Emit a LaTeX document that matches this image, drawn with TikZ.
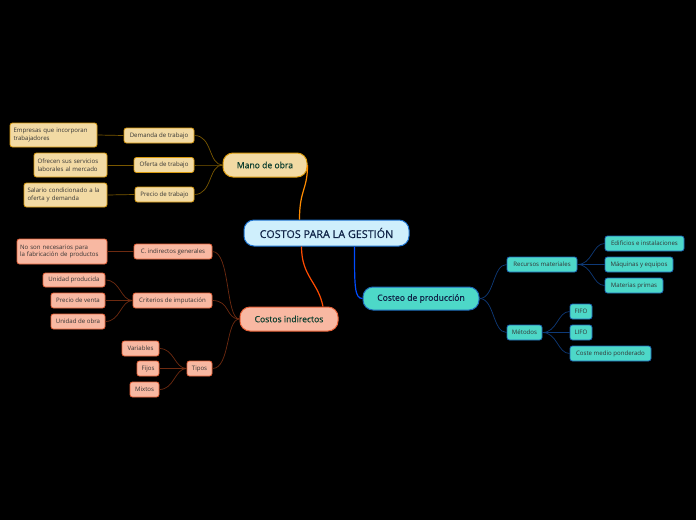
\documentclass[tikz,border=0pt]{standalone}
\usepackage{fontspec}
\setmainfont{Open Sans}
\newfontfamily\semib[FakeBold=0.6]{Open Sans}
\begin{document}
\begin{tikzpicture}[x=1pt,y=-1pt,
  base/.style={draw, line width=0.8pt, inner sep=1pt, align=center, font=\fontsize{6.1}{7.6}\selectfont, text=black!80},
  gold/.style={base, fill=goldfill, draw=goldline, rounded corners=2.5pt},
  red/.style={base, fill=redfill, draw=redline, rounded corners=2.5pt},
  teal/.style={base, fill=tealfill, draw=tealline, rounded corners=2.5pt},
  multi/.style={align=left},
  goldc/.style={draw=goldconn, line width=0.7pt},
  redc/.style={draw=redconn, line width=0.7pt},
  tealc/.style={draw=tealconn, line width=0.7pt},
  mainn/.style={line width=1pt, rounded corners=10pt, font=\semib\fontsize{8.6}{10}\selectfont},
]
\definecolor{goldfill}{HTML}{F2DAA4}
\definecolor{goldline}{HTML}{D99A0E}
\definecolor{redfill}{HTML}{F8B8A2}
\definecolor{redline}{HTML}{E8633A}
\definecolor{tealfill}{HTML}{4DD8C8}
\definecolor{tealline}{HTML}{1E68B8}
\definecolor{goldconn}{HTML}{7A5800}
\definecolor{redconn}{HTML}{6E2A10}
\definecolor{tealconn}{HTML}{0E3A78}
\definecolor{cfill}{HTML}{CFEFFC}
\definecolor{cline}{HTML}{1F74D0}
\definecolor{ctext}{HTML}{102448}
\definecolor{gtext}{HTML}{0E4030}
\fill[black] (0,0) rectangle (696,520);
\useasboundingbox (0,0) rectangle (696,520);

% central and main nodes
\node[mainn, draw=cline, fill=cfill, minimum width=165, minimum height=26, text=ctext, font=\semib\fontsize{10.8}{12}\selectfont] (c) at (326.5,233) {COSTOS PARA LA GESTIÓN};
\node[mainn, draw=goldline, fill=goldfill, minimum width=84, minimum height=24, text=gtext] (mano) at (265,165) {Mano de obra};
\node[mainn, draw=redline, fill=redfill, minimum width=98, minimum height=24, text=gtext] (ci) at (289,319) {Costos indirectos};
\node[mainn, draw=tealline, fill=tealfill, minimum width=116, minimum height=23, text=ctext] (cp) at (421,298.5) {Costeo de producción};

% main connectors
\draw[draw=orange!90!yellow, line width=1.2pt] (c.north west) ++(56,0) coordinate (c1) .. controls +(0,-30) and +(0,25) .. (mano.east);
\draw[draw=orange!60!red, line width=1.2pt] (c.south west) ++(58,0) coordinate (c2) .. controls +(0,30) and +(-5,-25) .. ([xshift=34pt]ci.north);
\draw[draw=blue!70!cyan, line width=1.2pt] (c.south west) ++(111,0) coordinate (c3) .. controls +(0,40) and +(-8,0) .. (cp.west);

% Mano de obra branch
\node[gold, minimum width=70, minimum height=15] (dem) at (159,135.5) {Demanda de trabajo};
\node[gold, minimum width=60, minimum height=15] (ofe) at (164,165) {Oferta de trabajo};
\node[gold, minimum width=59, minimum height=15] (pre) at (164.5,194.5) {Precio de trabajo};
\node[gold, multi, minimum width=87, minimum height=24, text width=80] (emp) at (53.5,135) {Empresas que incorporan\\trabajadores};
\node[gold, multi, minimum width=73, minimum height=24, text width=66] (ofr) at (70.5,165) {Ofrecen sus servicios\\laborales al mercado};
\node[gold, multi, minimum width=83, minimum height=24, text width=76] (sal) at (65.5,195) {Salario condicionado a la\\oferta y demanda};
\foreach \a in {dem,ofe,pre} \draw[goldc] (\a.east) .. controls +(18,0) and +(-14,0) .. (mano.west);
\draw[goldc] (emp.east) -- (dem.west);
\draw[goldc] (ofr.east) -- (ofe.west);
\draw[goldc] (sal.east) -- (pre.west);

% Costos indirectos branch
\node[red, minimum width=78, minimum height=15] (gen) at (173,251.5) {C. indirectos generales};
\node[red, minimum width=79, minimum height=15] (cri) at (172.5,300.5) {Criterios de imputación};
\node[red, minimum width=25, minimum height=15] (tip) at (199.5,368.5) {Tipos};
\node[red, multi, minimum width=90, minimum height=25, text width=84] (nos) at (62,251.5) {No son necesarios para\\la fabricación de productos};
\node[red, minimum width=62, minimum height=14] (upr) at (74,280) {Unidad producida};
\node[red, minimum width=54, minimum height=15] (pve) at (78,300.5) {Precio de venta};
\node[red, minimum width=54, minimum height=15] (uob) at (78,321.5) {Unidad de obra};
\node[red, minimum width=37, minimum height=15] (var) at (140.5,348.5) {Variables};
\node[red, minimum width=22, minimum height=15] (fij) at (148,368.5) {Fijos};
\node[red, minimum width=29, minimum height=15] (mix) at (144.5,389.5) {Mixtos};
\foreach \a in {gen,cri,tip} \draw[redc] (\a.east) .. controls +(18,0) and +(-14,0) .. (ci.west);
\draw[redc] (nos.east) -- (gen.west);
\foreach \a in {upr,pve,uob} \draw[redc] (\a.east) .. controls +(15,0) and +(-12,0) .. (cri.west);
\foreach \a in {var,fij,mix} \draw[redc] (\a.east) .. controls +(15,0) and +(-12,0) .. (tip.west);

% Costeo de produccion branch
\node[teal, minimum width=70, minimum height=15] (rec) at (542,264.5) {Recursos materiales};
\node[teal, minimum width=35, minimum height=15] (met) at (524.5,332.5) {Métodos};
\node[teal, minimum width=79, minimum height=15] (edi) at (644.5,243.5) {Edificios e instalaciones};
\node[teal, minimum width=68, minimum height=15] (maq) at (639,264.5) {Máquinas y equipos};
\node[teal, minimum width=58, minimum height=15] (mat) at (634,285.5) {Materias primas};
\node[teal, minimum width=22, minimum height=15] (fifo) at (581,311.5) {FIFO};
\node[teal, minimum width=22, minimum height=15] (lifo) at (581,332.5) {LIFO};
\node[teal, minimum width=81, minimum height=15] (cmp) at (610.5,353.5) {Coste medio ponderado};
\foreach \a in {rec,met} \draw[tealc] (cp.east) .. controls +(15,0) and +(-14,0) .. (\a.west);
\foreach \a in {edi,maq,mat} \draw[tealc] (rec.east) .. controls +(15,0) and +(-12,0) .. (\a.west);
\foreach \a in {fifo,lifo,cmp} \draw[tealc] (met.east) .. controls +(15,0) and +(-12,0) .. (\a.west);
\end{tikzpicture}
\end{document}
